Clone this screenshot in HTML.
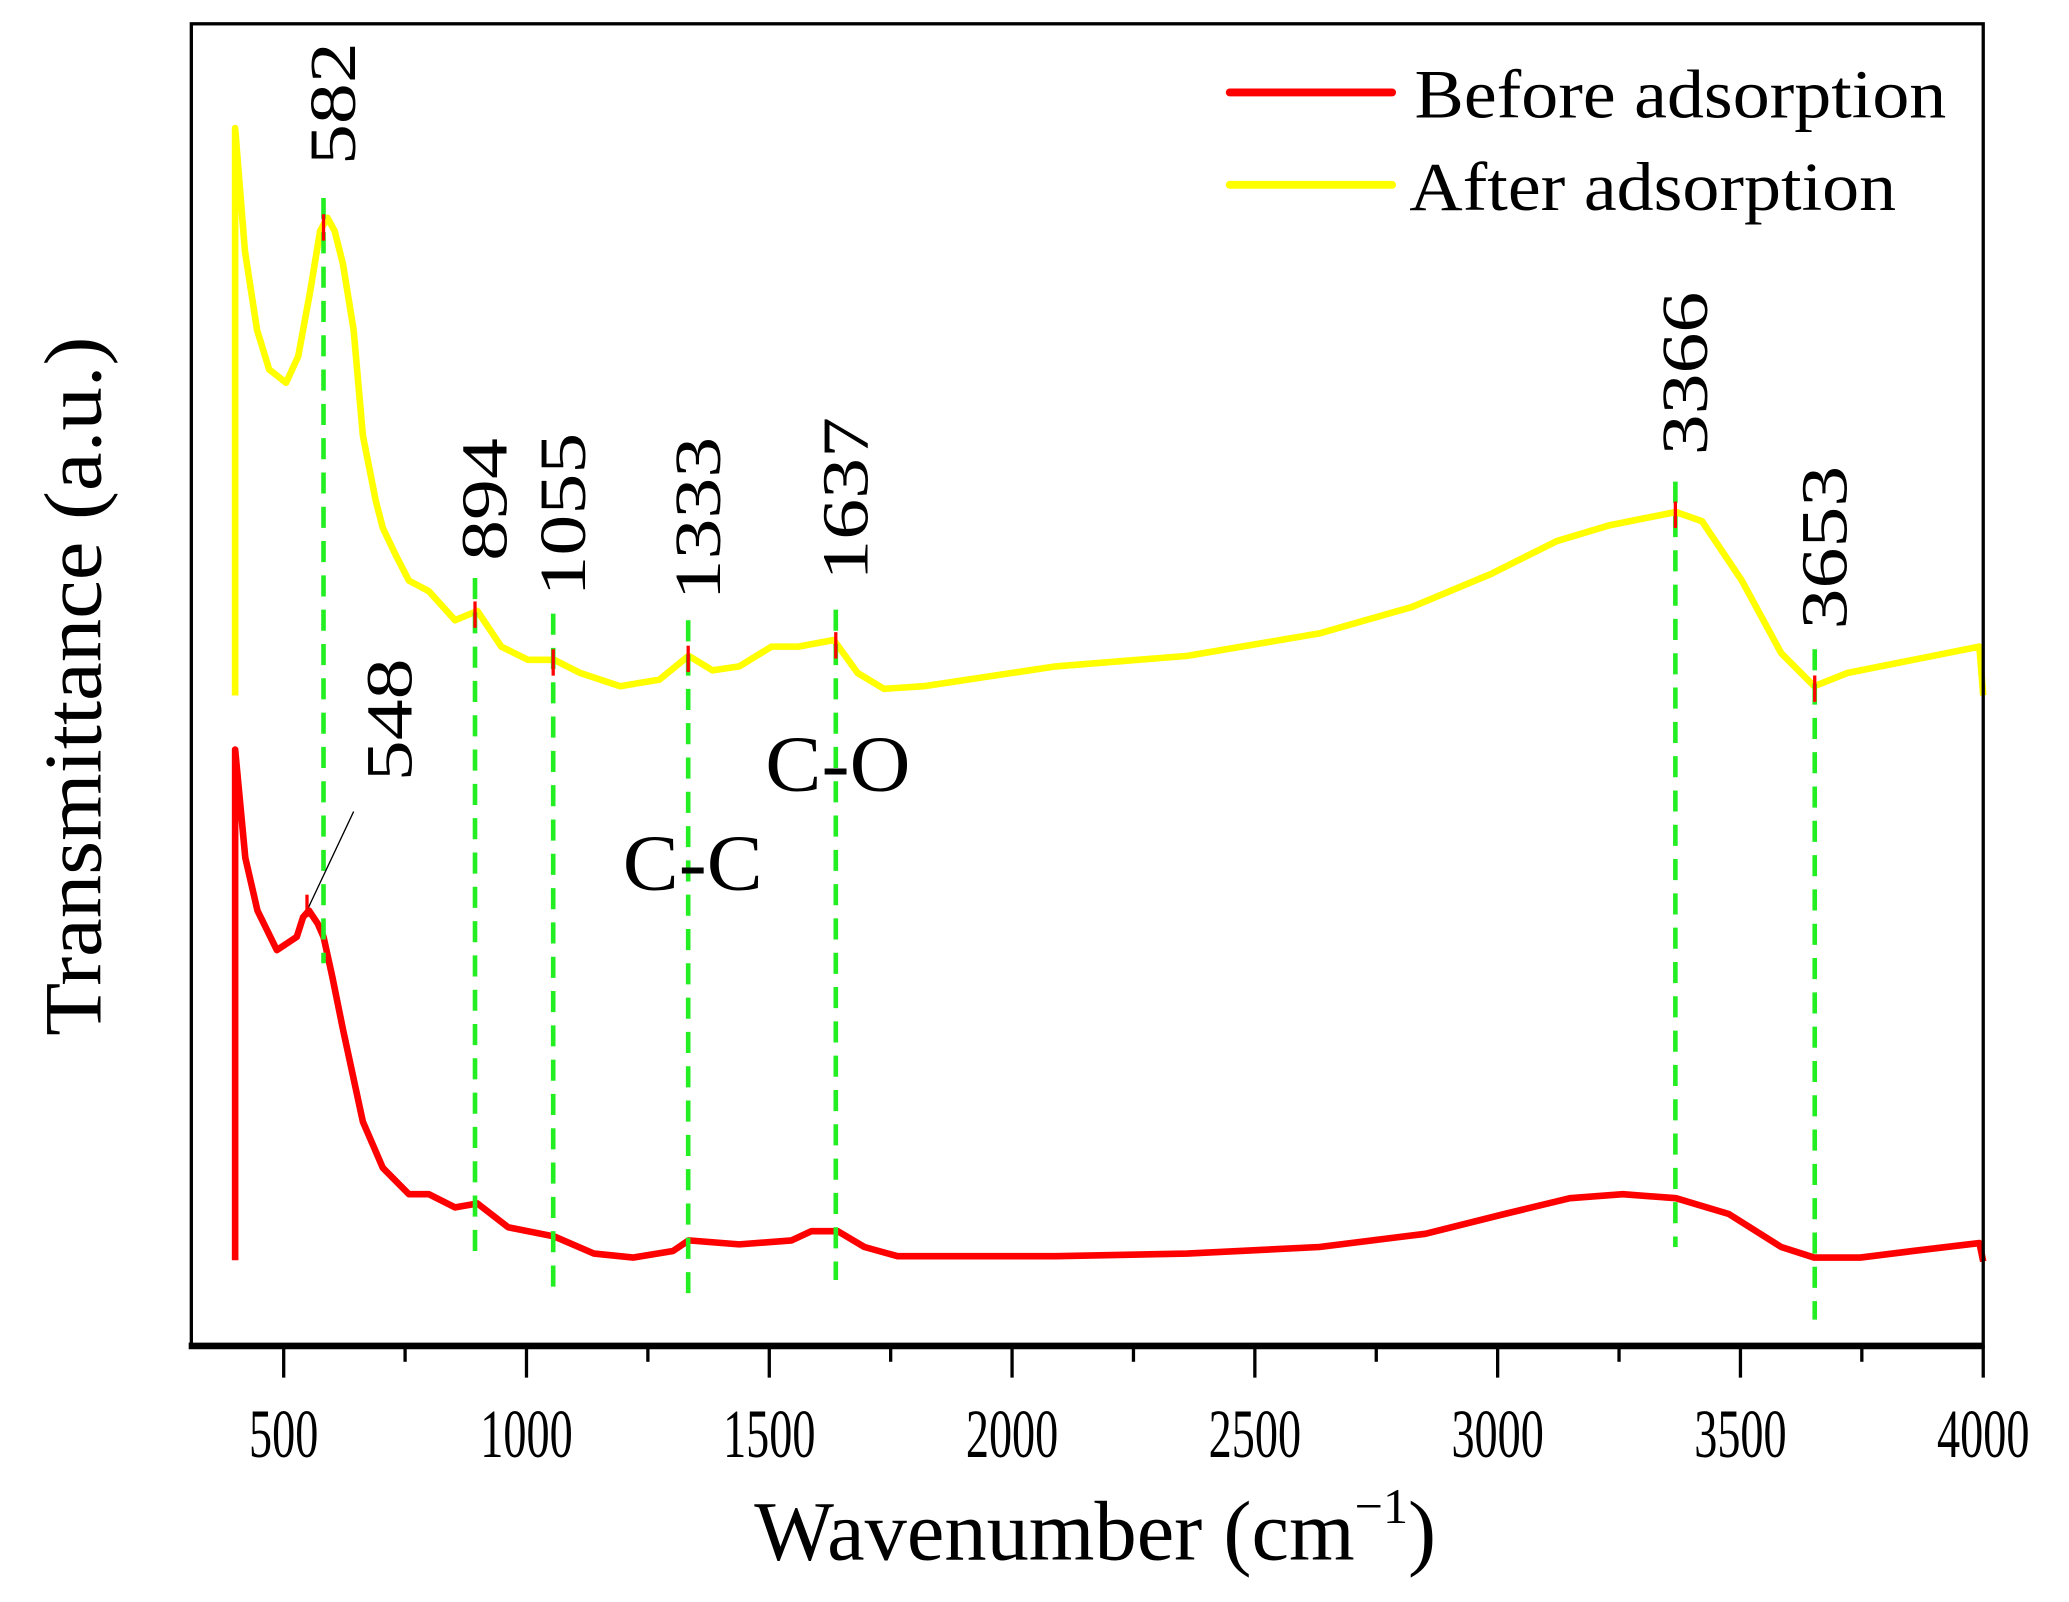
<!DOCTYPE html>
<html><head><meta charset="utf-8"><style>html,body{margin:0;padding:0;background:#fff}svg{display:block}</style></head>
<body>
<svg id="chart" width="2069" height="1602" viewBox="0 0 1568 1214" xmlns="http://www.w3.org/2000/svg" font-family="Liberation Serif, serif">
<rect x="0" y="0" width="1568" height="1214" fill="#fff"/>
<g id="plot"></g>
</svg>
<script>
const xTicks = [500,1000,1500,2000,2500,3000,3500,4000];
const yellowW = [400,400,420,445,470,505,530,555,575,590,605,622,644,663,690,704,730,758,799,853,899,948,1003,1057,1111,1193,1274,1334,1383,1438,1505,1560,1633,1682,1736,1818,2090,2361,2633,2823,2986,3122,3231,3367,3421,3503,3584,3652,3720,3856,3992,4000];
const yellowV = [49.3,92.3,83,77,74,73,75,80,84.5,85.5,84.5,82,77,69,64,62,60,58,57.2,55,55.7,53,52,52,51,50,50.5,52.3,51.2,51.5,53,53,53.5,51,49.8,50,51.5,52.3,54,56,58.5,61,62.2,63.2,62.5,58,52.5,50,51,52,53,49.3];
const redW = [400,400,421,446,486,527,540,552,570,582,600,622,663,704,758,799,853,899,962,1057,1139,1220,1302,1334,1438,1546,1587,1641,1696,1764,2090,2361,2633,2851,3014,3149,3258,3367,3476,3584,3652,3747,3856,3992,4000];
const redV = [6.5,45.2,37,33,30,31,32.5,33,32,31,28,24,17,13.5,11.5,11.5,10.5,10.8,9,8.3,7,6.7,7.2,8,7.7,8,8.7,8.7,7.5,6.8,6.8,7,7.5,8.5,10,11.2,11.5,11.2,10,7.5,6.7,6.7,7.2,7.8,6.4];
const peakW = [582,894,1055,1333,1637,3366,3653];
const peakTop = [87,58.2,55.5,55,55.8,65.5,52.8];
const peakBottom = [29,7.2,4.5,4,5,7.5,2];
const peakLabelBase = [89.5,59.5,56.8,56.5,58,67.5,54.3];

const NS='http://www.w3.org/2000/svg';
const g=document.getElementById('plot');
const L=145,R=1503,T=18,B=1020;
const x=w=>215+(w-500)*(1288/3500);
const y=v=>B-v*10;
function mk(t,a){const e=document.createElementNS(NS,t);for(const k in a)e.setAttribute(k,a[k]);g.appendChild(e);return e;}

function series(W,V,color,name){
  let d='';W.forEach((w,i)=>{d+=(i?'L':'M')+x(w).toFixed(1)+' '+y(V[i]).toFixed(1);});
  const p=mk('path',{d:d,fill:'none',stroke:color,'stroke-width':5,'stroke-linejoin':'round'});
  
  
}
series(redW,redV,'#ff0000','before-adsorption-line');
series(yellowW,yellowV,'#ffff00','after-adsorption-line');

peakW.forEach((w,i)=>{
  const l=mk('line',{x1:x(w),x2:x(w),y1:y(peakTop[i]),y2:y(peakBottom[i]),stroke:'#22ee22','stroke-width':3.5,'stroke-dasharray':'16 10'});
  
  
  let j=0;while(j<yellowW.length-1&&yellowW[j+1]<w)j++;
  const t=(w-yellowW[j])/(yellowW[j+1]-yellowW[j]||1);
  const yv=yellowV[j]+t*(yellowV[j+1]-yellowV[j]);
  const m=mk('line',{x1:x(w),x2:x(w),y1:y(yv)-8,y2:y(yv)+12,stroke:'#ff0000','stroke-width':2.5});
  
  
  const tx=x(w)+24, ty=y(peakLabelBase[i]);
  const len=String(w).length*31;
  const lb=mk('text',{x:0,y:0,transform:`translate(${tx},${ty}) rotate(-90)`,'font-size':50,fill:'#000',textLength:len,lengthAdjust:'spacingAndGlyphs'});
  lb.textContent=String(w);
  
  
});
const a1=mk('line',{x1:x(548),y1:690,x2:268,y2:615,stroke:'#000','stroke-width':1});


const a2=mk('line',{x1:x(548),x2:x(548),y1:678,y2:695,stroke:'#ff0000','stroke-width':2.5});


const a3=mk('text',{x:0,y:0,transform:'translate(312,592) rotate(-90)','font-size':50,textLength:93,lengthAdjust:'spacingAndGlyphs'});
a3.textContent='548';



const cc=mk('text',{x:472,y:674,'font-size':60,textLength:106,lengthAdjust:'spacingAndGlyphs'});cc.textContent='C-C';


const co=mk('text',{x:580,y:599,'font-size':60,textLength:110,lengthAdjust:'spacingAndGlyphs'});co.textContent='C-O';



const fr=mk('rect',{x:L,y:T,width:R-L,height:B-T,fill:'none',stroke:'#000','stroke-width':2.5});


const ax=mk('line',{x1:L-2,x2:R+1,y1:B,y2:B,stroke:'#000','stroke-width':5});


xTicks.forEach(v=>{
  const t=mk('line',{x1:x(v),x2:x(v),y1:B,y2:B+24,stroke:'#000','stroke-width':2.5});
  
  
  if(v<4000){const mt=mk('line',{x1:x(v+250),x2:x(v+250),y1:B,y2:B+12,stroke:'#000','stroke-width':2.5});
  
  }
  const s=String(v);
  const lb=mk('text',{x:x(v),y:1104,'font-size':52,'text-anchor':'middle',textLength:s.length*17.5,lengthAdjust:'spacingAndGlyphs'});
  lb.textContent=s;
  
  
});
const xt=mk('text',{x:830,y:1182,'font-size':64,'text-anchor':'middle'});
xt.innerHTML='Wavenumber (cm<tspan font-size="38" dy="-28">−1</tspan><tspan dy="28">)</tspan>';


const yt=mk('text',{x:0,y:0,transform:'translate(76,520) rotate(-90)','font-size':62,'text-anchor':'middle',textLength:530,lengthAdjust:'spacingAndGlyphs'});
yt.textContent='Transmittance (a.u.)';



const l1=mk('line',{x1:932,x2:1055,y1:70,y2:70,stroke:'#ff0000','stroke-width':6,'stroke-linecap':'round'});


const t1=mk('text',{x:1072,y:89,'font-size':52,textLength:403,lengthAdjust:'spacingAndGlyphs'});t1.textContent='Before adsorption';


const l2=mk('line',{x1:932,x2:1055,y1:140,y2:140,stroke:'#ffff00','stroke-width':6,'stroke-linecap':'round'});


const t2=mk('text',{x:1068,y:159,'font-size':52,textLength:369,lengthAdjust:'spacingAndGlyphs'});t2.textContent='After adsorption';


</script>
</body></html>
